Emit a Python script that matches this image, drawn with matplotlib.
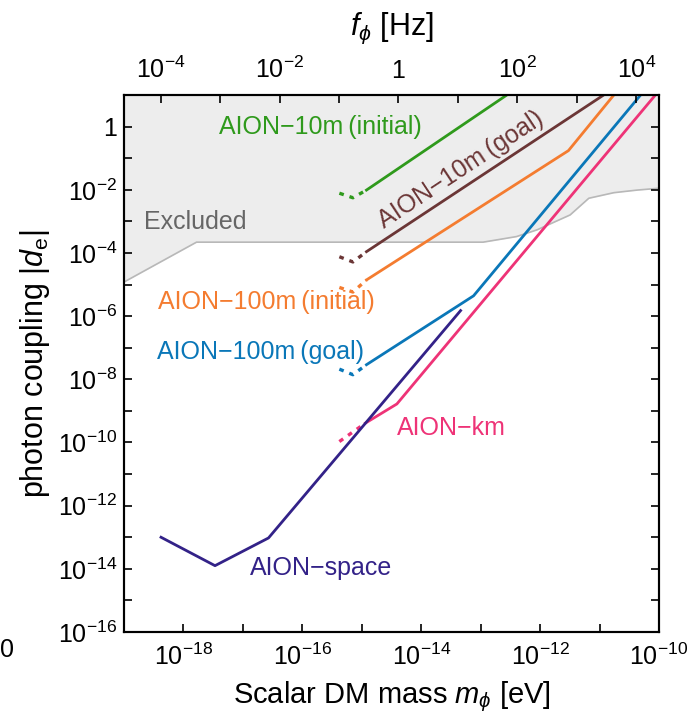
import matplotlib
matplotlib.use("Agg")
import matplotlib.pyplot as plt
import numpy as np

plt.rcParams['font.family'] = ['Liberation Sans', 'DejaVu Sans']
plt.rcParams['mathtext.fontset'] = 'custom'
plt.rcParams['mathtext.rm'] = 'Liberation Sans'
plt.rcParams['mathtext.it'] = 'Liberation Sans:italic'
plt.rcParams['mathtext.bf'] = 'Liberation Sans:bold'

# conversion mass [eV] -> frequency [Hz]
EV_TO_HZ = 2.418e14

# excluded region boundary
excl_x = [1e-19, 1.66e-18, 1.1e-13, 4.0e-13, 8.9e-13, 3.2e-12, 6.6e-12, 1.74e-11, 4.3e-11, 1e-10]
excl_y = [1.2e-5, 2.2e-4, 2.2e-4, 3.3e-4, 5.4e-4, 1.6e-3, 5.4e-3, 8.1e-3, 9.8e-3, 1.12e-2]

# dotted low-mass ends (shared x)
dot_x = [4.2e-16, 7.1e-16, 1.2e-15]

# AION-10m (initial)
g_dot_y = [7.8e-3, 5.6e-3, 9.8e-3]
g_x = [1.2e-15, 2.75e-13]
g_y = [9.8e-3, 10]

# AION-10m (goal)
br_dot_y = [7.6e-5, 5.2e-5, 1.1e-4]
br_x = [1.2e-15, 1.17e-11]
br_y = [1.1e-4, 10]

# AION-100m (initial)
o_dot_y = [8.1e-6, 5.8e-6, 1.4e-5]
o_x = [1.2e-15, 3.0e-12, 1.74e-11]
o_y = [1.4e-5, 0.174, 10]

# AION-100m (goal)
b_dot_y = [2.1e-8, 1.4e-8, 2.9e-8]
b_x = [1.2e-15, 7.6e-14, 4.9e-11]
b_y = [2.9e-8, 4.4e-6, 10]

# AION-km
p_dot_x = [4.2e-16, 1.15e-15]
p_dot_y = [1.07e-10, 4.1e-10]
p_x = [1.15e-15, 3.9e-15, 8.7e-11]
p_y = [4.1e-10, 1.66e-9, 10]

# AION-space
s_x = [4.2e-19, 3.4e-18, 2.7e-17, 4.6e-14]
s_y = [1e-13, 1.26e-14, 9.5e-14, 1.5e-6]

green = '#2f9a1c'
brown = '#6b3636'
orange = '#f47c30'
blue = '#0a77b8'
pink = '#ee3377'
indigo = '#332288'

fig = plt.figure(figsize=(6.93, 7.2), dpi=100)
ax = fig.add_axes([0.1789, 0.1222, 0.7720, 0.7458])
ax.set_xscale('log')
ax.set_yscale('log')
ax.set_xlim(1e-19, 1e-10)
ax.set_ylim(1e-16, 10)

ax.fill_between(excl_x, excl_y, 1e3, color='#ededed', lw=0, zorder=0)
ax.plot(excl_x, excl_y, color='#b8b8b8', lw=1.2, zorder=1)

dots = (0, (1.4, 1.8))
lw = 2.0
for c, dy in [(green, g_dot_y), (brown, br_dot_y), (orange, o_dot_y), (blue, b_dot_y)]:
    ax.plot(dot_x, dy, color=c, lw=2.4, ls=dots)
ax.plot(p_dot_x, p_dot_y, color=pink, lw=2.4, ls=dots)

ax.plot(g_x, g_y, color=green, lw=lw)
ax.plot(br_x, br_y, color=brown, lw=lw)
ax.plot(o_x, o_y, color=orange, lw=lw)
ax.plot(b_x, b_y, color=blue, lw=lw)
ax.plot(p_x, p_y, color=pink, lw=lw)
ax.plot(s_x, s_y, color=indigo, lw=lw)

fs = 18
ax.text(2.0e-16, 1.0, 'AION\u221210m\u2009(initial)', color=green, fontsize=fs, ha='center', va='center')
ax.text(4.6e-14, 0.043, 'AION\u221210m\u2009(goal)', color=brown, fontsize=fs, ha='center', va='center',
        rotation=33.5, rotation_mode='anchor')
ax.text(1.6e-18, 9.5e-4, 'Excluded', color='#666666', fontsize=fs, ha='center', va='center')
ax.text(2.5e-17, 2.8e-6, 'AION\u2212100m\u2009(initial)', color=orange, fontsize=fs, ha='center', va='center')
ax.text(1.95e-17, 7.4e-8, 'AION\u2212100m\u2009(goal)', color=blue, fontsize=fs, ha='center', va='center')
ax.text(3.2e-14, 2.9e-10, 'AION\u2212km', color=pink, fontsize=fs, ha='center', va='center')
ax.text(2.1e-16, 1.07e-14, 'AION\u2212space', color=indigo, fontsize=fs, ha='center', va='center')

# ticks
xt = [1e-18, 1e-16, 1e-14, 1e-12, 1e-10]
ax.set_xticks(xt)
ax.set_xticklabels(['$10^{-18}$', '$10^{-16}$', '$10^{-14}$', '$10^{-12}$', '$10^{-10}$'])
ax.set_xticks([1e-19, 1e-17, 1e-15, 1e-13, 1e-11], minor=True)
yt = [1, 1e-2, 1e-4, 1e-6, 1e-8, 1e-10, 1e-12, 1e-14, 1e-16]
ax.set_yticks(yt)
ax.set_yticklabels(['1'] + ['$10^{-%d}$' % k for k in range(2, 17, 2)])
ax.set_yticks([1e-1, 1e-3, 1e-5, 1e-7, 1e-9, 1e-11, 1e-13, 1e-15], minor=True)
ax.yaxis.set_minor_formatter(matplotlib.ticker.NullFormatter())
ax.xaxis.set_minor_formatter(matplotlib.ticker.NullFormatter())
ax.tick_params(which='both', direction='in', length=6, width=1.2, labelsize=fs, right=True)
ax.tick_params(axis='x', pad=8)
ax.tick_params(axis='y', pad=5)

top = ax.twiny()
top.set_xscale('log')
top.set_xlim(1e-19 * EV_TO_HZ, 1e-10 * EV_TO_HZ)
top.set_xticks([1e-4, 1e-2, 1, 1e2, 1e4])
top.set_xticklabels(['$10^{-4}$', '$10^{-2}$', '1', '$10^{2}$', '$10^{4}$'])
top.set_xticks([1e-3, 1e-1, 10, 1e3], minor=True)
top.xaxis.set_minor_formatter(matplotlib.ticker.NullFormatter())
top.tick_params(which='both', direction='in', length=6, width=1.2, labelsize=fs, pad=9)

for a in (ax, top):
    for s in a.spines.values():
        s.set_linewidth(1.5)

ax.set_xlabel(r'Scalar DM mass $m_{\phi}$ [eV]', fontsize=21, labelpad=7)
ax.set_ylabel(r'photon coupling $|d_{\mathrm{e}}|$', fontsize=22, labelpad=4)
top.set_xlabel(r'$f_{\phi}$ [Hz]', fontsize=22, labelpad=15)

fig.text(0.0, 0.097, '0', fontsize=fs, ha='left', va='center')

fig.savefig('out.png', dpi=100)
